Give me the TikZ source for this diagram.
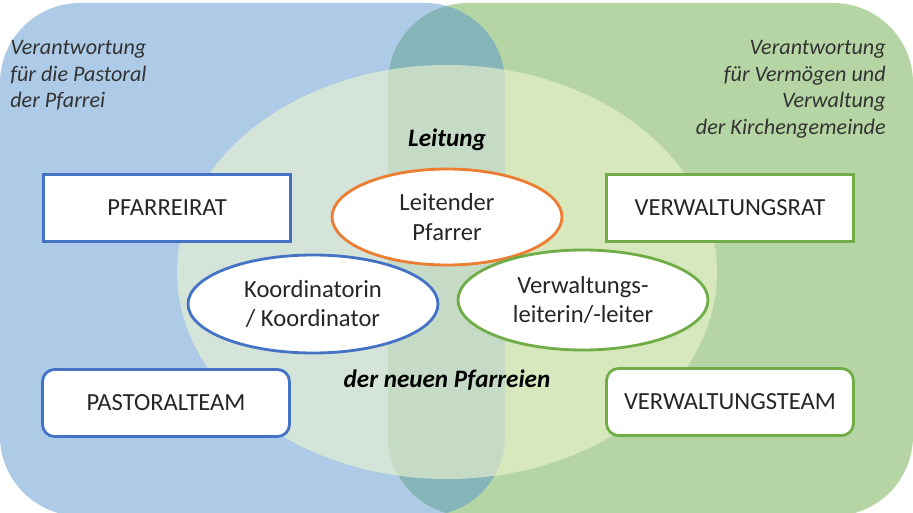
\documentclass[tikz,border=0pt]{standalone}
\usepackage{fontspec}
\setmainfont{Carlito}
\usetikzlibrary{shapes.geometric}

\definecolor{pastoralblue}{HTML}{ADCBE6}
\definecolor{admingreen}{HTML}{B5D6A4}
\definecolor{overlapteal}{HTML}{85B5B9}
\definecolor{palefill}{HTML}{F0F5CF}
\definecolor{councilblue}{HTML}{4472C4}
\definecolor{councilgreen}{HTML}{70AD47}
\definecolor{leadorange}{HTML}{ED7D31}
\definecolor{boxtext}{HTML}{262626}
\definecolor{notetext}{HTML}{333333}

\begin{document}
\begin{tikzpicture}[x=0.02cm,y=-0.02cm,
    rolebox/.style={draw,line width=1.6pt,fill=white,minimum width=4.94cm,minimum height=1.34cm,text=boxtext,font=\boxfontsize},
    roleoval/.style={ellipse,draw,line width=1.6pt,fill=white,inner sep=0pt,align=center,text=boxtext,font=\ovalfontsize},
    note/.style={inner sep=0pt,text=notetext,font=\notefontsize\itshape}]
    \pgfmathsetmacro{\cornerradius}{1.6cm}
    \pgfmathsetmacro{\teamradius}{0.24cm}
    \providecommand{\boxfontsize}{\fontsize{14pt}{16pt}\selectfont}
    \providecommand{\ovalfontsize}{\fontsize{14pt}{17pt}\selectfont}
    \providecommand{\notefontsize}{\fontsize{12.6pt}{15.2pt}\selectfont}
    \providecommand{\headfontsize}{\fontsize{14.3pt}{17pt}\selectfont}
    \useasboundingbox (0,0) rectangle (913,513);
    \clip (0,0) rectangle (913,513);
    % the two areas and where they meet
    \fill[pastoralblue,rounded corners=\cornerradius] (0,3) rectangle (505,516);
    \fill[admingreen,rounded corners=\cornerradius] (388,3) rectangle (913,516);
    \begin{scope}
        \clip[rounded corners=\cornerradius] (0,3) rectangle (505,516);
        \fill[overlapteal,rounded corners=\cornerradius] (388,3) rectangle (913,516);
    \end{scope}
    \fill[palefill,fill opacity=0.6] (447,272) ellipse [x radius=270, y radius=207];
    % texts of the areas
    \node[note,anchor=north west,align=left] (pastoralnote) at (10,40) {Verantwortung\\für die Pastoral\\der Pfarrei};
    \node[note,anchor=north east,align=right] (verwaltungnote) at (886,40) {Verantwortung\\für Vermögen und\\Verwaltung\\der Kirchengemeinde};
    \node[note,text=black,font=\headfontsize\bfseries\itshape] (leitung) at (447,140) {Leitung};
    \node[note,text=black,font=\headfontsize\bfseries\itshape] (neuepfarreien) at (447,380) {der neuen Pfarreien};
    % councils and teams
    \node[rolebox,draw=councilblue] (pfarreirat) at (167,208) {PFARREIRAT};
    \node[rolebox,draw=councilgreen] (verwaltungsrat) at (730,208) {VERWALTUNGSRAT};
    \node[rolebox,draw=councilblue,rounded corners=\teamradius] (pastoralteam) at (166,403) {PASTORALTEAM};
    \node[rolebox,draw=councilgreen,rounded corners=\teamradius] (verwaltungsteam) at (730,402) {VERWALTUNGSTEAM};
    % the leading persons
    \node[roleoval,draw=leadorange,minimum width=4.6cm,minimum height=1.92cm] (pfarrer) at (447,217) {Leitender\\Pfarrer};
    \node[roleoval,draw=councilblue,minimum width=5cm,minimum height=1.96cm] (koordinator) at (313,304) {Koordinatorin\\/ Koordinator};
    \node[roleoval,draw=councilgreen,minimum width=5cm,minimum height=2cm] (verwaltungsleiter) at (583,300) {Verwaltungs-\\leiterin/-leiter};
\end{tikzpicture}
\end{document}
